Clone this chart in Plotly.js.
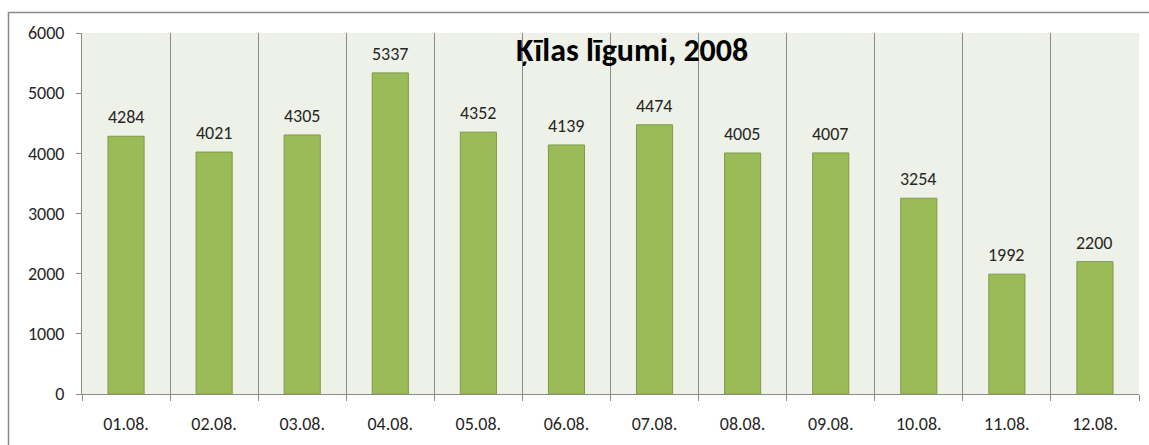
<!DOCTYPE html>
<html><head><meta charset="utf-8">
<script src="https://cdn.plot.ly/plotly-3.0.1.min.js"></script>
<style>html,body{margin:0;padding:0;background:#fff;}#chart{width:1149px;height:445px;}</style>
</head><body><div id="chart"></div>
<script>
const categories = ["01.08.","02.08.","03.08.","04.08.","05.08.","06.08.","07.08.","08.08.","09.08.","10.08.","11.08.","12.08."];
const values = [4284,4021,4305,5337,4352,4139,4474,4005,4007,3254,1992,2200];
const titleText = "Ķīlas līgumi, 2008";
const yTicks = [0,1000,2000,3000,4000,5000,6000];

const font = "Carlito, Calibri, 'Noto Sans', 'Open Sans', sans-serif";

const trace = {
  type: 'bar', x: categories, y: values, width: 0.41,
  marker: {color: '#9BBB59', line: {color: '#7E9B46', width: 1}},
  hoverinfo: 'skip'
};

const annotations = categories.map((c, i) => ({
  x: c, y: values[i], xref: 'x', yref: 'y', text: String(values[i]),
  showarrow: false, yanchor: 'bottom', yshift: 6,
  font: {family: font, size: 18, color: '#262626'}
}));
annotations.push({
  xref: 'paper', yref: 'paper', x: (632-82)/1057, y: (394-51)/361,
  xanchor: 'center', yanchor: 'middle', text: '<b>' + titleText + '</b>', showarrow: false,
  font: {family: font, size: 32, color: '#000'}
});

const layout = {
  width: 1149, height: 445,
  margin: {l: 82, r: 10, t: 33, b: 51},
  paper_bgcolor: '#ffffff', plot_bgcolor: '#EEF1E7',
  showlegend: false, bargap: 0.59,
  xaxis: {
    type: 'category', tickson: 'boundaries', showgrid: true, gridcolor: '#8C8C8C', gridwidth: 1,
    ticks: 'outside', ticklen: 6, tickcolor: '#8C8C8C', showline: true, linecolor: '#8C8C8C',
    ticklabelstandoff: 13, tickfont: {family: font, size: 18, color: '#262626'}
  },
  yaxis: {
    range: [0, 6000], tickvals: yTicks, ticktext: yTicks.map(String), showgrid: false, zeroline: false,
    ticks: 'outside', ticklen: 5, tickcolor: '#8C8C8C', showline: true, linecolor: '#8C8C8C',
    ticklabelstandoff: 8, tickfont: {family: font, size: 18, color: '#262626'}
  },
  annotations: annotations,
  shapes: [{
    type: 'rect', xref: 'paper', yref: 'paper',
    x0: (8.5-82)/1057, x1: 1.2, y0: -0.5, y1: (394-12.5)/361,
    line: {color: '#8A8A8A', width: 1.5}, fillcolor: 'rgba(0,0,0,0)', layer: 'below'
  }]
};

Plotly.newPlot('chart', [trace], layout, {staticPlot: true, displayModeBar: false});
</script></body></html>
